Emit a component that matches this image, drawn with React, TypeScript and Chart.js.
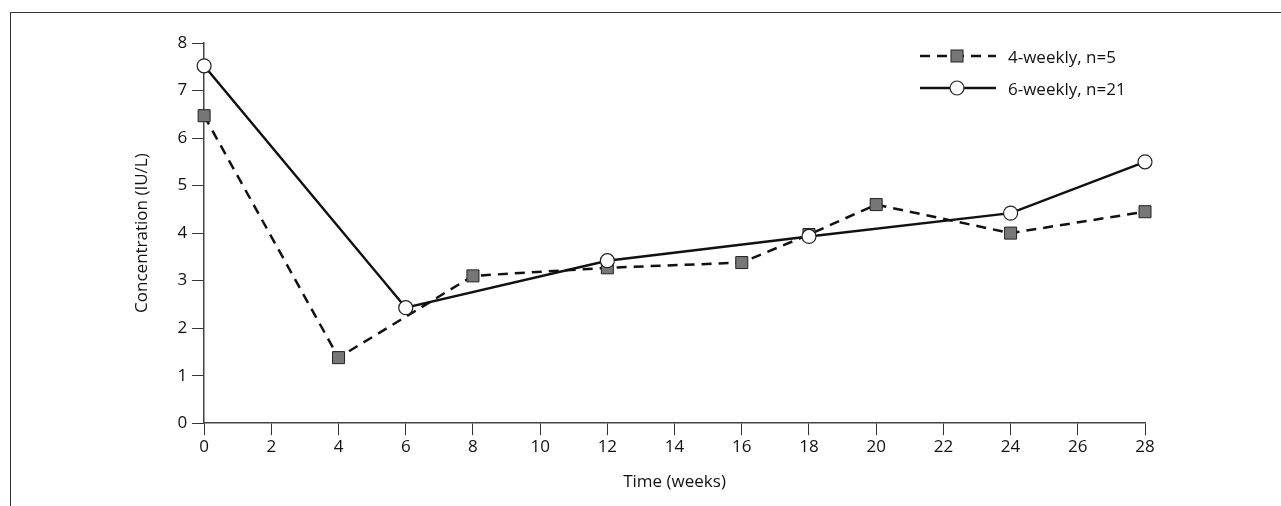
import { useEffect, useRef } from 'react'
import { Chart, registerables } from 'chart.js'

Chart.register(...registerables)

const fourWeeksX = [0, 4, 8, 12, 16, 18, 20, 24, 28]
const fourWeeksY = [6.47, 1.38, 3.1, 3.27, 3.38, 3.97, 4.6, 4.0, 4.45]
const sixWeeksX = [0, 6, 12, 18, 24, 28]
const sixWeeksY = [7.52, 2.43, 3.42, 3.93, 4.42, 5.5]
const seriesNames = ['4-weekly, n=5', '6-weekly, n=21']

const FONT = '"Open Sans", "DejaVu Sans", sans-serif'

export default function App() {
  const ref = useRef<HTMLCanvasElement | null>(null)

  useEffect(() => {
    if (!ref.current) return
    const chart = new Chart(ref.current, {
      type: 'line',
      data: {
        datasets: [
          {
            label: seriesNames[0],
            data: fourWeeksX.map((x, i) => ({ x, y: fourWeeksY[i] })),
            order: 2,
            borderColor: '#111',
            borderWidth: 2.5,
            borderDash: [10, 7],
            pointStyle: 'rect',
            pointRadius: 8.5,
            pointBackgroundColor: '#777',
            pointBorderColor: '#222',
            pointBorderWidth: 1,
            clip: false,
          },
          {
            label: seriesNames[1],
            data: sixWeeksX.map((x, i) => ({ x, y: sixWeeksY[i] })),
            order: 1,
            borderColor: '#111',
            borderWidth: 2.5,
            pointStyle: 'circle',
            pointRadius: 7,
            pointBackgroundColor: '#fff',
            pointBorderColor: '#222',
            pointBorderWidth: 1.2,
            clip: false,
          },
        ],
      },
      options: {
        animation: false,
        responsive: false,
        layout: { padding: { left: 128, right: 136, top: 43, bottom: 10 } },
        plugins: { legend: { display: false }, tooltip: { enabled: false } },
        scales: {
          x: {
            type: 'linear',
            min: 0,
            max: 28,
            ticks: { stepSize: 2, color: '#111', font: { family: FONT, size: 17 }, padding: 2 },
            grid: { drawOnChartArea: false, tickLength: 12, color: '#333', tickColor: '#333' },
            border: { color: '#444', width: 1.5 },
            title: { display: true, text: 'Time (weeks)', color: '#111', font: { family: FONT, size: 17 }, padding: { top: 12 } },
          },
          y: {
            min: 0,
            max: 8,
            ticks: { stepSize: 1, color: '#111', font: { family: FONT, size: 17 }, padding: 5 },
            grid: { drawOnChartArea: false, tickLength: 12, color: '#333', tickColor: '#333' },
            border: { color: '#444', width: 1.5 },
            title: { display: true, text: 'Concentration (IU/L)', color: '#111', font: { family: FONT, size: 17 }, padding: { bottom: 20 } },
          },
        },
      },
    })
    return () => chart.destroy()
  }, [])

  const legendText = { fontFamily: FONT, fontSize: 17, color: '#111' }

  return (
    <div style={{ position: 'absolute', left: 0, top: 0, width: 1281, height: 506, background: '#fff', overflow: 'hidden' }}>
      <div style={{ position: 'absolute', left: 10, top: 12, width: 1290, height: 520, borderLeft: '1.5px solid #333', borderTop: '1.5px solid #333' }} />
      <canvas ref={ref} width={1281} height={506} style={{ position: 'absolute', left: 0, top: 0 }} />
      <div style={{ position: 'absolute', left: 918, top: 40 }}>
        <div style={{ display: 'flex', alignItems: 'center', height: 32 }}>
          <svg width={80} height={20}>
            <line x1={2} y1={10} x2={78} y2={10} stroke="#111" strokeWidth={2.5} strokeDasharray="10 7" />
            <rect x={33} y={4} width={12} height={12} fill="#777" stroke="#222" strokeWidth={1} />
          </svg>
          <span style={{ ...legendText, marginLeft: 10 }}>{seriesNames[0]}</span>
        </div>
        <div style={{ display: 'flex', alignItems: 'center', height: 32 }}>
          <svg width={80} height={20}>
            <line x1={2} y1={10} x2={78} y2={10} stroke="#111" strokeWidth={2.5} />
            <circle cx={39} cy={10} r={7} fill="#fff" stroke="#222" strokeWidth={1.2} />
          </svg>
          <span style={{ ...legendText, marginLeft: 10 }}>{seriesNames[1]}</span>
        </div>
      </div>
    </div>
  )
}
